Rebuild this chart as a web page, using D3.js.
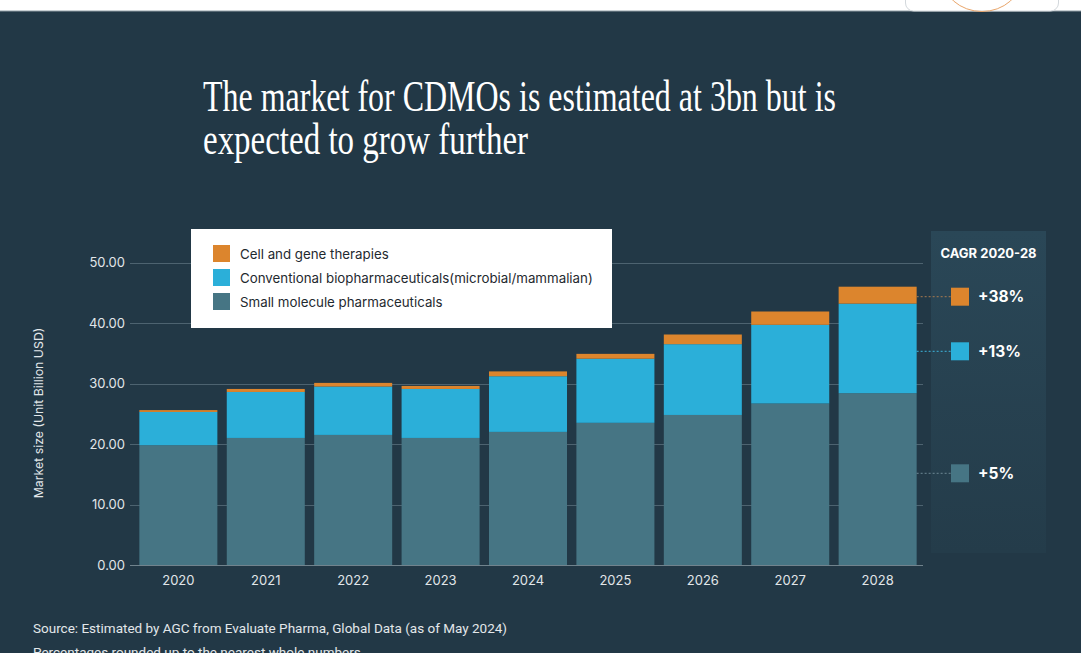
<!DOCTYPE html>
<html>
<head>
<meta charset="utf-8">
<script src="https://cdn.jsdelivr.net/npm/d3@7"></script>
<style>
  html, body { margin: 0; padding: 0; background: #223846; }
  svg { display: block; }
</style>
</head>
<body>
<svg id="chart" width="1081" height="653"></svg>
<script>
// ---- Data ----
const years = ["2020", "2021", "2022", "2023", "2024", "2025", "2026", "2027", "2028"];
const smallMolecule = [19.8, 21.0, 21.5, 21.0, 22.0, 23.5, 24.8, 26.7, 28.4];
const conventionalBio = [5.5, 7.6, 8.0, 8.1, 9.2, 10.6, 11.7, 13.0, 14.8];
const cellGene = [0.3, 0.5, 0.6, 0.5, 0.8, 0.8, 1.6, 2.2, 2.8];
const yTicks = [0, 10, 20, 30, 40, 50];
const seriesNames = ["Small molecule pharmaceuticals", "Conventional biopharmaceuticals(microbial/mammalian)", "Cell and gene therapies"];
const seriesKeys = ["small", "conv", "cell"];
const cagrLabels = ["+5%", "+13%", "+38%"];
const titleLines = ["The market for CDMOs is estimated at 3bn but is", "expected to grow further"];
const yAxisTitle = "Market size (Unit Billion USD)";
const cagrTitle = "CAGR 2020-28";
const footnotes = ["Source: Estimated by AGC from Evaluate Pharma, Global Data (as of May 2024)", "Percentages rounded up to the nearest whole numbers"];

const colors = { small: "#467584", conv: "#2bafd9", cell: "#dc852d" };
const bg = "#223846";
const sans = "Inter, Roboto, 'Noto Sans', sans-serif";

const table = years.map((y, i) => ({ year: y, small: smallMolecule[i], conv: conventionalBio[i], cell: cellGene[i] }));

const svg = d3.select("#chart");

// background
svg.append("rect").attr("width", 1081).attr("height", 653).attr("fill", bg);
// top white page strip
svg.append("rect").attr("x", 0).attr("y", 0).attr("width", 1081).attr("height", 11).attr("fill", "#ffffff");
svg.append("line").attr("x1", 0).attr("x2", 1081).attr("y1", 11).attr("y2", 11).attr("stroke", "#8f9ca4").attr("stroke-width", 1);
svg.append("rect").attr("x", 905.5).attr("y", -12).attr("width", 153).attr("height", 23).attr("rx", 8)
  .attr("fill", "#ffffff").attr("stroke", "#d3d8dc");
svg.append("ellipse").attr("cx", 982).attr("cy", -24).attr("rx", 40).attr("ry", 35.5)
  .attr("fill", "none").attr("stroke", "#e9a56a").attr("stroke-width", 1);

// title
const title = svg.append("g");
title.selectAll("text").data(titleLines).join("text")
  .attr("x", 203)
  .attr("y", (d, i) => 111 + i * 43)
  .attr("textLength", (d, i) => i === 0 ? 633 : 325)
  .attr("lengthAdjust", "spacingAndGlyphs")
  .attr("font-family", "'Liberation Serif', 'DejaVu Serif', serif")
  .attr("font-size", 45)
  .attr("fill", "#ffffff")
  .text(d => d);

// scales
const x = d3.scaleBand().domain(years).range([130, 926]).paddingInner(0.1075).paddingOuter(0.107);
const y = d3.scaleLinear().domain([0, 50]).range([565, 262.5]);

// CAGR panel (behind)
const defs = svg.append("defs");
const grad = defs.append("linearGradient").attr("id", "pg").attr("x1", 0).attr("x2", 0).attr("y1", 0).attr("y2", 1);
grad.append("stop").attr("offset", "0%").attr("stop-color", "#2a4757");
grad.append("stop").attr("offset", "100%").attr("stop-color", "#243c4a");
svg.append("rect").attr("x", 931).attr("y", 231).attr("width", 115).attr("height", 322).attr("fill", "url(#pg)");

// gridlines
const grid = svg.append("g");
grid.selectAll("line").data(yTicks).join("line")
  .attr("x1", 130).attr("x2", 923)
  .attr("y1", d => Math.round(y(d)) + 0.5).attr("y2", d => Math.round(y(d)) + 0.5)
  .attr("stroke", d => d === 0 ? "#71838d" : "#4d6370").attr("stroke-width", 1);

// y axis labels
const yAxis = svg.append("g").attr("transform", "translate(127,0)")
  .call(d3.axisLeft(y).tickValues(yTicks).tickSize(0).tickPadding(2).tickFormat(d3.format(".2f")));
yAxis.select(".domain").remove();
yAxis.selectAll("text").attr("fill", "#e1e6e9").attr("font-family", sans).attr("font-size", 13);

// x axis labels
const xAxis = svg.append("g").attr("transform", "translate(0,565)")
  .call(d3.axisBottom(x).tickSize(0).tickPadding(11));
xAxis.select(".domain").remove();
xAxis.selectAll("text").attr("fill", "#e1e6e9").attr("font-family", sans).attr("font-size", 13);

// stacked bars
const stack = d3.stack().keys(seriesKeys)(table);
svg.append("g").selectAll("g").data(stack).join("g")
  .attr("fill", d => colors[d.key])
  .selectAll("rect").data(d => d).join("rect")
  .attr("x", d => x(d.data.year))
  .attr("width", x.bandwidth())
  .attr("y", d => y(d[1]))
  .attr("height", d => y(d[0]) - y(d[1]));

// y-axis title
svg.append("text")
  .attr("transform", "translate(43,413) rotate(-90)")
  .attr("text-anchor", "middle")
  .attr("font-family", sans).attr("font-size", 12.3)
  .attr("fill", "#e1e6e9")
  .text(yAxisTitle);

// legend
const legend = svg.append("g");
legend.append("rect").attr("x", 191).attr("y", 229).attr("width", 421).attr("height", 99).attr("fill", "#ffffff");
const legendOrder = [2, 1, 0];
legendOrder.forEach((si, row) => {
  const cy = 254 + row * 24;
  legend.append("rect").attr("x", 213).attr("y", cy - 9).attr("width", 17).attr("height", 17).attr("fill", colors[seriesKeys[si]]);
  legend.append("text").attr("x", 240).attr("y", cy + 4.5)
    .attr("font-family", sans).attr("font-size", 13.3).attr("fill", "#1f2a30")
    .text(seriesNames[si]);
});

// CAGR annotations
svg.append("text").attr("x", 988.5).attr("y", 258).attr("text-anchor", "middle")
  .attr("font-family", sans).attr("font-size", 13).attr("font-weight", 700).attr("fill", "#ffffff")
  .text(cagrTitle);
const cagrY = [473.3, 351.3, 296.7];
const dotColors = { small: "#6d8894", conv: "#3cb4dc", cell: "#a87a4f" };
const lastBarRight = x(years[years.length - 1]) + x.bandwidth();
seriesKeys.forEach((k, i) => {
  const cy = cagrY[i];
  svg.append("line").attr("x1", lastBarRight).attr("x2", 951).attr("y1", cy).attr("y2", cy)
    .attr("stroke", dotColors[k]).attr("stroke-width", 1).attr("stroke-dasharray", "2,2");
  svg.append("rect").attr("x", 951).attr("y", cy - 9).attr("width", 18).attr("height", 18).attr("fill", colors[k]);
  svg.append("text").attr("x", 978).attr("y", cy + 5.5)
    .attr("font-family", sans).attr("font-size", 15.5).attr("font-weight", 700).attr("fill", "#ffffff")
    .text(cagrLabels[i]);
});

// footnotes
svg.append("g").selectAll("text").data(footnotes).join("text")
  .attr("x", 33).attr("y", (d, i) => 633 + i * 24)
  .attr("font-family", "Roboto, 'Noto Sans', sans-serif").attr("font-size", 13.5)
  .attr("fill", "#e3e7ea")
  .text(d => d);
</script>
</body>
</html>
